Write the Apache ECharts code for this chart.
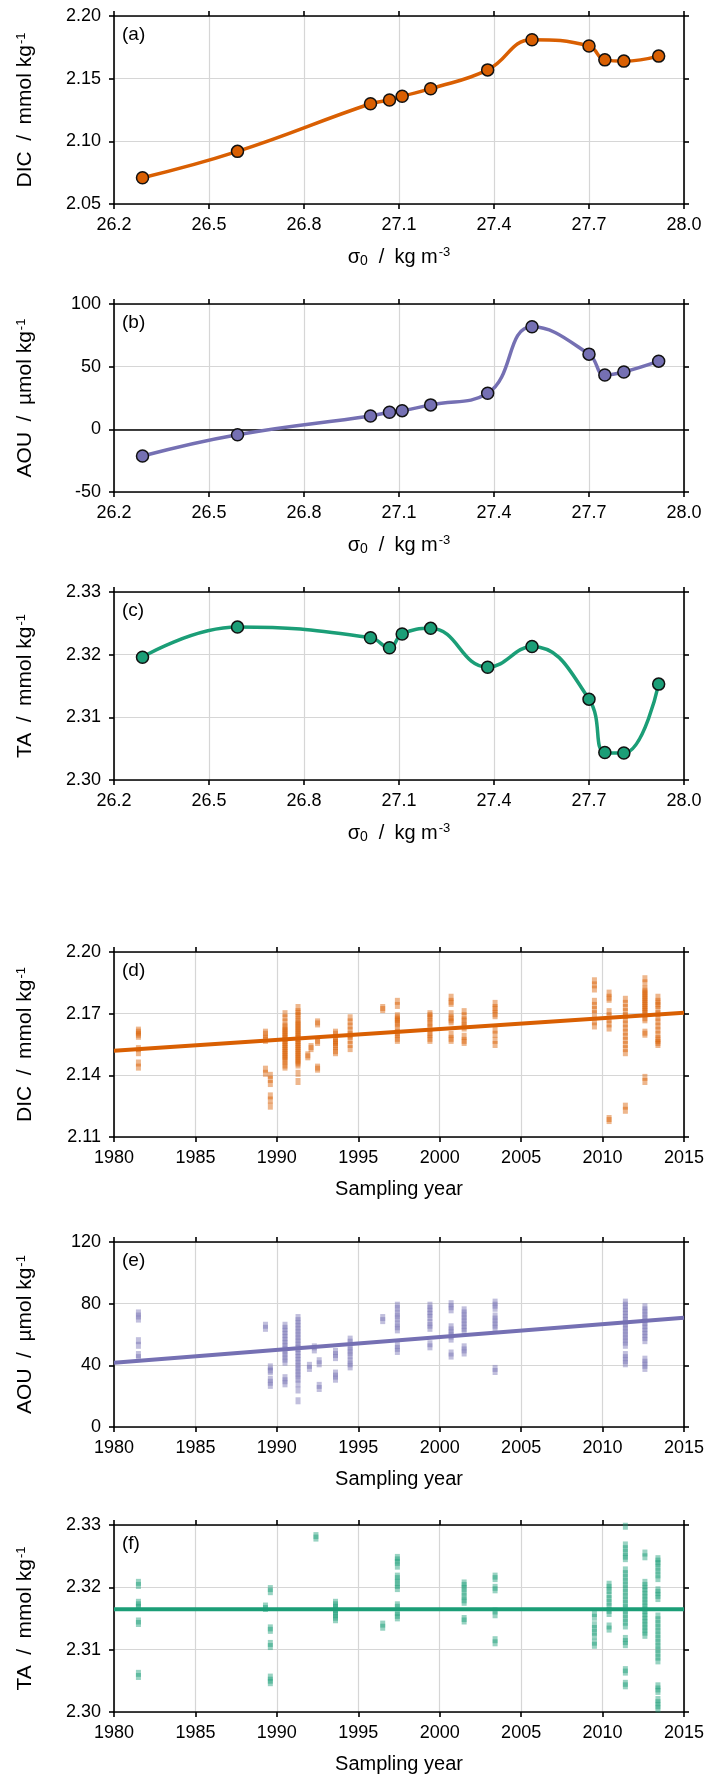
<!DOCTYPE html>
<html><head><meta charset="utf-8">
<script src="https://cdn.jsdelivr.net/npm/echarts@6/dist/echarts.min.js"></script>
<style>html,body{margin:0;padding:0;background:#fff}#c{width:716px;height:1780px}</style>
</head><body><div id="c"></div>
<script>
// ---------- DATA ----------
const sigma0 = [26.29, 26.59, 27.01, 27.07, 27.11, 27.20, 27.38, 27.52, 27.70, 27.75, 27.81, 27.92];
const dicProfile = [2.071, 2.092, 2.130, 2.133, 2.136, 2.142, 2.157, 2.181, 2.176, 2.165, 2.164, 2.168];
const aouProfile = [-21.3, -4.3, 10.7, 13.6, 14.9, 19.5, 28.8, 81.8, 60.0, 43.4, 45.8, 54.4];
const taProfile = [2.3196, 2.3244, 2.3227, 2.3211, 2.3233, 2.3242, 2.3180, 2.3213, 2.3129, 2.3044, 2.3043, 2.3153];

const sigmaRange = [26.2, 28.0, 0.3];
const yearRange = [1980, 2015, 5];
const dicProfileRange = [2.05, 2.20, 0.05];
const aouProfileRange = [-50, 100, 50];
const taRange = [2.30, 2.33, 0.01];
const dicObsRange = [2.11, 2.20, 0.03];
const aouObsRange = [0, 120, 40];

const dicObsYears = [1981.5, 1989.3, 1989.6, 1990.5, 1991.3, 1991.9, 1992.1, 1992.5, 1993.6, 1994.5, 1996.5, 1997.4, 1999.4, 2000.7, 2001.5, 2003.4, 2009.5, 2010.4, 2011.4, 2012.6, 2013.4];
const dicObsValues = [
  [2.162, 2.161, 2.160, 2.159, 2.153, 2.151, 2.146, 2.144],
  [2.161, 2.160, 2.158, 2.157, 2.143, 2.141],
  [2.140, 2.138, 2.136, 2.130, 2.128, 2.125],
  [2.170, 2.168, 2.166, 2.164, 2.163, 2.162, 2.161, 2.160, 2.159, 2.158, 2.157, 2.156, 2.155, 2.154, 2.153, 2.152, 2.151, 2.150, 2.149, 2.148, 2.147, 2.145, 2.144],
  [2.173, 2.171, 2.170, 2.169, 2.167, 2.166, 2.165, 2.164, 2.163, 2.162, 2.161, 2.160, 2.159, 2.158, 2.157, 2.156, 2.155, 2.154, 2.153, 2.152, 2.151, 2.150, 2.149, 2.148, 2.147, 2.146, 2.145, 2.141, 2.137],
  [2.150, 2.149],
  [2.154, 2.153],
  [2.166, 2.165, 2.157, 2.156, 2.144, 2.143],
  [2.161, 2.160, 2.158, 2.157, 2.156, 2.155, 2.154, 2.152, 2.151],
  [2.168, 2.166, 2.164, 2.162, 2.160, 2.159, 2.157, 2.155, 2.153],
  [2.173, 2.172],
  [2.176, 2.174, 2.169, 2.168, 2.167, 2.166, 2.165, 2.163, 2.161, 2.160, 2.158, 2.157],
  [2.170, 2.169, 2.168, 2.166, 2.165, 2.163, 2.161, 2.160, 2.158, 2.157],
  [2.178, 2.176, 2.175, 2.170, 2.168, 2.167, 2.166, 2.160, 2.158, 2.157],
  [2.171, 2.169, 2.167, 2.166, 2.164, 2.163, 2.159, 2.157, 2.156],
  [2.175, 2.173, 2.172, 2.170, 2.169, 2.162, 2.160, 2.157, 2.155],
  [2.186, 2.184, 2.182, 2.176, 2.174, 2.172, 2.170, 2.166, 2.164],
  [2.180, 2.178, 2.177, 2.171, 2.169, 2.167, 2.165, 2.163, 2.119, 2.118],
  [2.177, 2.175, 2.173, 2.171, 2.169, 2.167, 2.165, 2.163, 2.161, 2.159, 2.157, 2.155, 2.153, 2.151, 2.125, 2.123],
  [2.187, 2.185, 2.182, 2.181, 2.180, 2.179, 2.178, 2.177, 2.176, 2.175, 2.174, 2.173, 2.172, 2.171, 2.170, 2.168, 2.167, 2.161, 2.160, 2.139, 2.137],
  [2.178, 2.176, 2.175, 2.174, 2.172, 2.170, 2.168, 2.166, 2.164, 2.162, 2.160, 2.158, 2.157, 2.156, 2.155]
];

const aouObsYears = [1981.5, 1989.3, 1989.6, 1990.5, 1991.3, 1992.0, 1992.3, 1992.6, 1993.6, 1994.5, 1996.5, 1997.4, 1999.4, 2000.7, 2001.5, 2003.4, 2011.4, 2012.6];
const aouObsValues = [
  [74, 72, 70, 56, 53, 47, 45],
  [66, 64],
  [39, 37, 36, 31, 29, 27],
  [66, 64, 62, 60, 58, 56, 54, 52, 50, 48, 46, 44, 42, 32, 30, 28],
  [71, 69, 67, 65, 63, 61, 59, 57, 55, 53, 51, 49, 47, 45, 43, 41, 39, 37, 35, 33, 31, 28, 24, 17],
  [40, 38],
  [52, 50],
  [43, 41, 27, 25],
  [49, 47, 45, 35, 33, 31],
  [57, 55, 52, 50, 48, 46, 43, 41, 39],
  [71, 69],
  [79, 77, 74, 72, 70, 67, 65, 63, 53, 51, 49],
  [79, 77, 75, 73, 71, 68, 66, 64, 54, 52],
  [80, 78, 76, 65, 63, 61, 59, 57, 48, 46],
  [76, 74, 72, 70, 68, 66, 64, 62, 52, 50, 48],
  [81, 79, 77, 72, 70, 68, 66, 64, 38, 36],
  [81, 79, 77, 75, 73, 71, 69, 67, 65, 63, 61, 59, 57, 55, 53, 47, 45, 43, 41],
  [78, 76, 74, 72, 70, 68, 66, 64, 62, 60, 58, 56, 44, 42, 40, 38]
];

const taObsYears = [1981.5, 1989.3, 1989.6, 1992.4, 1993.6, 1996.5, 1997.4, 2001.5, 2003.4, 2009.5, 2010.4, 2011.4, 2012.6, 2013.4];
const taObsValues = [
  [2.3208, 2.3203, 2.3176, 2.3172, 2.3168, 2.3146, 2.3142, 2.3062, 2.3057],
  [2.3170, 2.3166],
  [2.3198, 2.3193, 2.3135, 2.3131, 2.3110, 2.3105, 2.3056, 2.3051, 2.3047],
  [2.3283, 2.3279],
  [2.3176, 2.3172, 2.3168, 2.3164, 2.3160, 2.3156, 2.3152, 2.3148],
  [2.3141, 2.3136],
  [2.3248, 2.3244, 2.3240, 2.3234, 2.3218, 2.3214, 2.3208, 2.3203, 2.3198, 2.3172, 2.3168, 2.3160, 2.3155, 2.3151],
  [2.3207, 2.3203, 2.3198, 2.3192, 2.3186, 2.3180, 2.3176, 2.3150, 2.3146],
  [2.3218, 2.3214, 2.3200, 2.3196, 2.3162, 2.3156, 2.3116, 2.3111],
  [2.3158, 2.3152, 2.3140, 2.3134, 2.3128, 2.3122, 2.3112, 2.3107],
  [2.3205, 2.3200, 2.3195, 2.3188, 2.3182, 2.3176, 2.3170, 2.3163, 2.3158, 2.3138, 2.3133],
  [2.3298, 2.3268, 2.3262, 2.3256, 2.3250, 2.3246, 2.3228, 2.3222, 2.3216, 2.3210, 2.3204, 2.3198, 2.3192, 2.3186, 2.3180, 2.3174, 2.3168, 2.3162, 2.3156, 2.3150, 2.3144, 2.3138, 2.3118, 2.3113, 2.3108, 2.3068, 2.3064, 2.3046, 2.3042],
  [2.3255, 2.3249, 2.3208, 2.3203, 2.3198, 2.3193, 2.3188, 2.3183, 2.3178, 2.3173, 2.3168, 2.3163, 2.3158, 2.3153, 2.3148, 2.3143, 2.3138, 2.3133, 2.3128, 2.3123],
  [2.3246, 2.3242, 2.3238, 2.3232, 2.3226, 2.3220, 2.3214, 2.3196, 2.3192, 2.3187, 2.3182, 2.3154, 2.3148, 2.3142, 2.3136, 2.3130, 2.3124, 2.3118, 2.3112, 2.3106, 2.3100, 2.3094, 2.3088, 2.3082, 2.3042, 2.3037, 2.3033, 2.3020, 2.3015, 2.3010, 2.3005]
];

const dicTrendYears = [1980, 2015];
const dicTrendValues = [2.1520, 2.1705];
const aouTrendYears = [1980, 2015];
const aouTrendValues = [41.6, 70.8];
const taTrendYears = [1980, 2015];
const taTrendValues = [2.3165, 2.3165];

const panelLabels = ['(a)', '(b)', '(c)', '(d)', '(e)', '(f)'];
const colors = ['#d95f02', '#7570b3', '#1b9e77'];

// ---------- LAYOUT / STYLE ----------
const FONT = "'Liberation Sans', Arial, Helvetica, sans-serif";
const GRID_LEFT = 114, GRID_W = 570;
const panels = [
  {top: 16, h: 188}, {top: 304, h: 188}, {top: 592, h: 188},
  {top: 952, h: 185}, {top: 1242, h: 185}, {top: 1525, h: 187}
];
const frame = {color: '#000', width: 1.6};
const gridLine = {color: '#d6d6d6', width: 1.2};
const rich = {
  sup: {fontSize: 13, fontFamily: FONT, color: '#000', verticalAlign: 'top', padding: [0, 0, 5, 1]},
  sub: {fontSize: 14, fontFamily: FONT, color: '#000', verticalAlign: 'bottom', padding: [8, 1, 0, 0]}
};
const yNameStyle = {fontSize: 21, fontFamily: FONT, color: '#000', rich};
const xNameStyle = {fontSize: 20, fontFamily: FONT, color: '#000', rich};
const sigmaName = 'σ{sub|0}\u2002/\u2002kg m{sup|-3}';
const yearName = 'Sampling year';

function fmt(dec) { return v => Number(v).toFixed(dec); }

const xAxes = [], yAxes = [], grids = [];
function addPanel(gi, xr, yr, xName, yName, xDec, yDec) {
  const p = panels[gi];
  grids.push({left: GRID_LEFT, width: GRID_W, top: p.top, height: p.h, containLabel: false});
  const common = (r) => ({type: 'value', gridIndex: gi, min: r[0], max: r[1], interval: r[2], scale: true});
  xAxes.push(Object.assign(common(xr), {
    position: 'bottom',
    axisLine: {show: true, onZero: false, lineStyle: frame},
    axisTick: {show: true, inside: false, length: 5, lineStyle: frame},
    axisLabel: {show: true, margin: 12, fontSize: 18, fontFamily: FONT, color: '#000', formatter: fmt(xDec), showMinLabel: true, showMaxLabel: true},
    splitLine: {show: true, lineStyle: gridLine},
    name: xName, nameLocation: 'middle', nameGap: 42, nameTextStyle: xNameStyle
  }));
  xAxes.push(Object.assign(common(xr), {
    position: 'top',
    axisLine: {show: true, onZero: false, lineStyle: frame},
    axisTick: {show: true, inside: false, length: 5, lineStyle: frame},
    axisLabel: {show: false}, splitLine: {show: false}
  }));
  yAxes.push(Object.assign(common(yr), {
    position: 'left',
    axisLine: {show: true, onZero: false, lineStyle: frame},
    axisTick: {show: true, inside: false, length: 5, lineStyle: frame},
    axisLabel: {show: true, margin: 13, fontSize: 18, fontFamily: FONT, color: '#000', formatter: fmt(yDec), showMinLabel: true, showMaxLabel: true},
    splitLine: {show: true, lineStyle: gridLine},
    name: yName, nameLocation: 'middle', nameGap: 78, nameRotate: 90, nameTextStyle: yNameStyle
  }));
  yAxes.push(Object.assign(common(yr), {
    position: 'right',
    axisLine: {show: true, onZero: false, lineStyle: frame},
    axisTick: {show: true, inside: false, length: 5, lineStyle: frame},
    axisLabel: {show: false}, splitLine: {show: false}
  }));
}

const sp = '\u2002';
addPanel(0, sigmaRange, dicProfileRange, sigmaName, 'DIC' + sp + '/' + sp + 'mmol kg{sup|-1}', 1, 2);
addPanel(1, sigmaRange, aouProfileRange, sigmaName, 'AOU' + sp + '/' + sp + 'µmol kg{sup|-1}', 1, 0);
addPanel(2, sigmaRange, taRange, sigmaName, 'TA' + sp + '/' + sp + 'mmol kg{sup|-1}', 1, 2);
addPanel(3, yearRange, dicObsRange, yearName, 'DIC' + sp + '/' + sp + 'mmol kg{sup|-1}', 0, 2);
addPanel(4, yearRange, aouObsRange, yearName, 'AOU' + sp + '/' + sp + 'µmol kg{sup|-1}', 0, 0);
addPanel(5, yearRange, taRange, yearName, 'TA' + sp + '/' + sp + 'mmol kg{sup|-1}', 0, 2);

const series = [];
function profileSeries(gi, vals, color) {
  series.push({
    type: 'line', xAxisIndex: 2 * gi, yAxisIndex: 2 * gi,
    data: sigma0.map((s, i) => [s, vals[i]]),
    smooth: 0.45,
    symbol: 'circle', symbolSize: 12, showAllSymbol: true,
    lineStyle: {color, width: 3.5},
    itemStyle: {color, borderColor: '#111', borderWidth: 1.5},
    z: 5, silent: true
  });
}
function obsSeries(gi, years, vals, color) {
  const pts = [];
  years.forEach((y, i) => vals[i].forEach(v => pts.push([y, v])));
  series.push({
    type: 'scatter', xAxisIndex: 2 * gi, yAxisIndex: 2 * gi,
    data: pts, symbol: 'rect', symbolSize: [5, 7],
    itemStyle: {color, opacity: 0.45}, z: 3, silent: true
  });
}
function trendSeries(gi, years, vals, color) {
  series.push({
    type: 'line', xAxisIndex: 2 * gi, yAxisIndex: 2 * gi,
    data: years.map((y, i) => [y, vals[i]]),
    symbol: 'none', lineStyle: {color, width: 4}, z: 4, silent: true
  });
}

// zero reference line in panel (b)
series.push({
  type: 'line', xAxisIndex: 2, yAxisIndex: 2, data: [], silent: true, z: 2,
  markLine: {silent: true, symbol: ['none', 'none'], label: {show: false},
    lineStyle: {color: '#000', width: 1.6, type: 'solid'}, data: [{yAxis: 0}]}
});

profileSeries(0, dicProfile, colors[0]);
profileSeries(1, aouProfile, colors[1]);
profileSeries(2, taProfile, colors[2]);
obsSeries(3, dicObsYears, dicObsValues, colors[0]);
obsSeries(4, aouObsYears, aouObsValues, colors[1]);
obsSeries(5, taObsYears, taObsValues, colors[2]);
trendSeries(3, dicTrendYears, dicTrendValues, colors[0]);
trendSeries(4, aouTrendYears, aouTrendValues, colors[1]);
trendSeries(5, taTrendYears, taTrendValues, colors[2]);

const graphic = panelLabels.map((t, i) => ({
  type: 'text', left: GRID_LEFT + 8, top: panels[i].top + 9, z: 10,
  style: {text: t, fontSize: 19, fontFamily: FONT, fill: '#000'}
}));

const chart = echarts.init(document.getElementById('c'), null, {renderer: 'canvas'});
chart.setOption({
  animation: false, backgroundColor: '#fff',
  grid: grids, xAxis: xAxes, yAxis: yAxes, series, graphic
});
</script></body></html>
